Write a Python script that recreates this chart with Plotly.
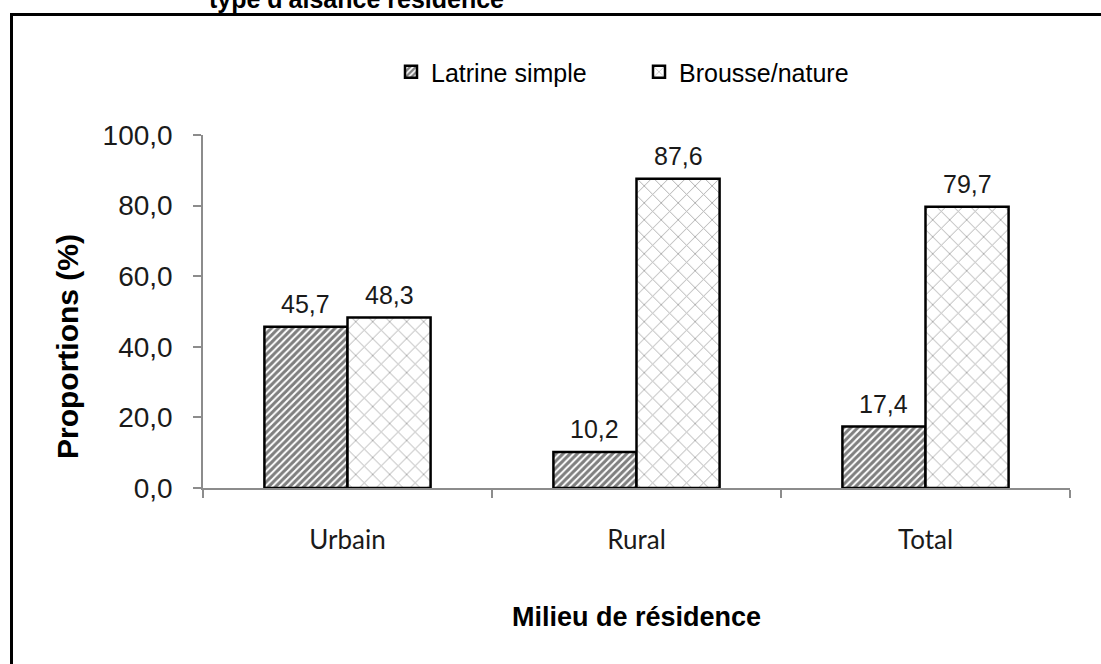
import plotly.graph_objects as go

# Data
categories = ["Urbain", "Rural", "Total"]
latrine_simple = [45.7, 10.2, 17.4]
brousse_nature = [48.3, 87.6, 79.7]
y_ticks = [0, 20, 40, 60, 80, 100]
y_tick_labels = ["0,0", "20,0", "40,0", "60,0", "80,0", "100,0"]

W, H = 1101, 664
L, R, T, B = 203, 31, 135, 176
PW, PH = W - L - R, H - T - B


def px_x(px):
    return (px - L) / PW


def px_y(py):
    return (H - B - py) / PH


def fr(v):
    return f"{v:.1f}".replace(".", ",")


fig = go.Figure()
fig.add_trace(go.Bar(
    name="Latrine simple", x=categories, y=latrine_simple,
    marker=dict(color="white", line=dict(color="black", width=2.5),
                pattern=dict(shape="/", fgcolor="black", bgcolor="white",
                             size=5, solidity=0.6)),
))
fig.add_trace(go.Bar(
    name="Brousse/nature", x=categories, y=brousse_nature,
    marker=dict(color="white", line=dict(color="black", width=2.5),
                pattern=dict(shape="x", fgcolor="#5a5a5a", bgcolor="white",
                             size=12, solidity=0.15)),
))

bargap = 0.425
bar_px = PW / len(categories) * (1 - bargap) / 2
annotations = []
for series, shift in ((latrine_simple, -bar_px / 2), (brousse_nature, bar_px / 2)):
    for c, v in zip(categories, series):
        annotations.append(dict(
            x=c, y=v, xref="x", yref="y", text=fr(v), showarrow=False,
            xshift=shift, yanchor="bottom", yshift=7,
            font=dict(family="Liberation Sans, Arial", size=25, color="#1a1a1a"),
        ))

# Axis titles and heading
annotations.append(dict(
    x=px_x(67), y=px_y(347), xref="paper", yref="paper",
    text="<b>Proportions (%)</b>", textangle=-90, showarrow=False,
    xanchor="center", yanchor="middle",
    font=dict(family="Liberation Sans, Arial", size=30, color="black"),
))
annotations.append(dict(
    x=px_x(636), y=px_y(617), xref="paper", yref="paper",
    text="<b>Milieu de résidence</b>", showarrow=False,
    xanchor="center", yanchor="middle",
    font=dict(family="Liberation Sans, Arial", size=27, color="black"),
))
annotations.append(dict(
    x=px_x(356), y=px_y(15), xref="paper", yref="paper",
    text="<b>type d'aisance résidence</b>", showarrow=False,
    xanchor="center", yanchor="bottom",
    font=dict(family="Liberation Sans, Arial", size=25, color="black"),
))

fig.update_layout(
    width=W, height=H,
    margin=dict(l=L, r=R, t=T, b=B),
    paper_bgcolor="white", plot_bgcolor="white",
    barmode="group", bargap=bargap, bargroupgap=0,
    showlegend=True,
    legend=dict(
        orientation="h", x=px_x(391), y=px_y(72), xref="paper", yref="paper",
        xanchor="left", yanchor="middle",
        font=dict(family="Liberation Sans, Arial", size=25, color="black"),
        entrywidth=243 - 40, entrywidthmode="pixels",
        bgcolor="rgba(0,0,0,0)",
    ),
    annotations=annotations,
    shapes=[dict(
        type="rect", xref="paper", yref="paper",
        x0=px_x(11.5), x1=px_x(W + 20), y0=px_y(H + 20), y1=px_y(14.5),
        line=dict(color="black", width=3), fillcolor="rgba(0,0,0,0)",
        layer="above",
    )],
    xaxis=dict(
        type="category", range=[-0.5, 2.5],
        showline=True, linecolor="#8c8c8c", linewidth=2,
        ticks="outside", tickson="boundaries", ticklen=8, tickcolor="#8c8c8c",
        tickwidth=1.5, showgrid=False, zeroline=False,
        tickfont=dict(family="Lato, Open Sans", size=26, color="#1a1a1a"),
        ticklabelstandoff=28,
    ),
    yaxis=dict(
        range=[0, 100], tickvals=y_ticks, ticktext=y_tick_labels,
        showline=True, linecolor="#8c8c8c", linewidth=1.5,
        ticks="outside", ticklen=8, tickcolor="#8c8c8c", tickwidth=1.5,
        showgrid=False, zeroline=False,
        tickfont=dict(family="Liberation Sans, Arial", size=28, color="#1a1a1a"),
        ticklabelstandoff=15,
    ),
)

fig.write_html("out.html")
